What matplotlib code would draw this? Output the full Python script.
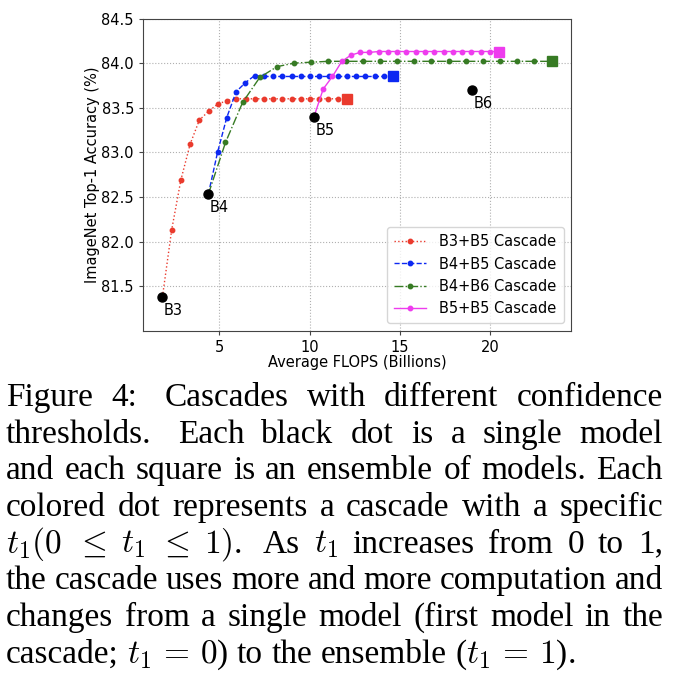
import matplotlib
matplotlib.use("Agg")
import matplotlib.pyplot as plt

# ---------------- data ----------------
b3b5_x = [1.85, 2.36, 2.87, 3.38, 3.89, 4.40, 4.91, 5.43, 5.94, 6.45, 6.96,
          7.47, 7.98, 8.49, 9.00, 9.51, 10.02, 10.53, 11.04, 11.55, 12.07]
b3b5_y = [81.38, 82.13, 82.69, 83.09, 83.36, 83.46, 83.54, 83.58, 83.60, 83.60, 83.60,
          83.60, 83.60, 83.60, 83.60, 83.60, 83.60, 83.60, 83.60, 83.60, 83.60]

b4b5_x = [4.39, 4.90, 5.41, 5.93, 6.44, 6.95, 7.46, 7.97, 8.49, 9.00, 9.51,
          10.02, 10.53, 11.05, 11.56, 12.07, 12.58, 13.09, 13.61, 14.12, 14.63]
b4b5_y = [82.53, 83.00, 83.39, 83.68, 83.78, 83.86, 83.85, 83.85, 83.85, 83.85, 83.85,
          83.85, 83.85, 83.85, 83.85, 83.85, 83.85, 83.85, 83.85, 83.85, 83.85]

b4b6_x = [4.39, 5.34, 6.29, 7.24, 8.19, 9.14, 10.09, 11.04, 11.99, 12.94, 13.89,
          14.84, 15.79, 16.74, 17.69, 18.64, 19.59, 20.54, 21.49, 22.44, 23.39]
b4b6_y = [82.53, 83.11, 83.56, 83.84, 83.96, 84.00, 84.01, 84.02, 84.02, 84.02, 84.02,
          84.02, 84.02, 84.02, 84.02, 84.02, 84.02, 84.02, 84.02, 84.02, 84.02]

b5b5_x = [10.24, 10.75, 11.26, 11.78, 12.29, 12.80, 13.31, 13.82, 14.34, 14.85, 15.36,
          15.87, 16.38, 16.90, 17.41, 17.92, 18.43, 18.94, 19.46, 19.97, 20.48]
b5b5_y = [83.40, 83.71, 83.85, 84.02, 84.09, 84.12, 84.12, 84.13, 84.13, 84.13, 84.13,
          84.13, 84.13, 84.13, 84.13, 84.13, 84.13, 84.13, 84.13, 84.13, 84.13]

single_names = ["B3", "B4", "B5", "B6"]
single_x = [1.85, 4.39, 10.24, 19.00]
single_y = [81.38, 82.53, 83.40, 83.70]

series_labels = ["B3+B5 Cascade", "B4+B5 Cascade", "B4+B6 Cascade", "B5+B5 Cascade"]
series_x = [b3b5_x, b4b5_x, b4b6_x, b5b5_x]
series_y = [b3b5_y, b4b5_y, b4b6_y, b5b5_y]

xticks = [5, 10, 15, 20]
yticks = [81.5, 82.0, 82.5, 83.0, 83.5, 84.0, 84.5]

caption_lines = [
    ["Figure", "4:", "Cascades", "with", "different", "confidence"],
    ["thresholds.", "Each", "black", "dot", "is", "a", "single", "model"],
    ["and", "each", "square", "is", "an", "ensemble", "of", "models.", "Each"],
    ["colored", "dot", "represents", "a", "cascade", "with", "a", "specific"],
    [r"$t_1(0$", r"$\leq$", r"$t_1$", r"$\leq$", r"$1)$.", "As", r"$t_1$",
     "increases", "from", "0", "to", "1,"],
    ["the", "cascade", "uses", "more", "and", "more", "computation", "and"],
    ["changes", "from", "a", "single", "model", "(first", "model", "in", "the"],
    ["cascade;", r"$t_1\,=\,0$)", "to", "the", "ensemble", r"($t_1\,=\,1$)."],
]

# ---------------- style ----------------
colors = ["#ea3a2d", "#0c28f2", "#377b24", "#ee3cee"]
styles = [":", "--", "-.", "-"]
lws = [1.0, 1.0, 1.0, 1.0]

plt.rcParams["font.family"] = ["DejaVu Sans"]
plt.rcParams["mathtext.fontset"] = "cm"
W, H = 678, 680
fig = plt.figure(figsize=(W / 100, H / 100), dpi=100)
ax = fig.add_axes([143 / W, 1 - 330.7 / H, (571 - 143) / W, (330.7 - 18.5) / H])

for xs, ys, c, ls, lw, lab in zip(series_x, series_y, colors, styles, lws, series_labels):
    ax.plot(xs, ys, linestyle=ls, color=c, lw=lw, marker="o", markersize=3.2,
            label=lab, zorder=3)
    ax.plot(xs[-1:], ys[-1:], linestyle="none", marker="s", markersize=7,
            color=c, zorder=4)

ax.plot(single_x, single_y, linestyle="none", marker="o", markersize=6.5,
        color="black", zorder=5)
for n, x, y in zip(single_names, single_x, single_y):
    ax.annotate(n, (x, y), xytext=(1, -4.5), textcoords="offset points",
                ha="left", va="top", fontsize=10.5, color="black")

ax.set_ylim(81.0, 84.5)
ax.set_xticks(xticks)
ax.set_yticks(yticks)
ax.tick_params(labelsize=10.5, length=3, color="#444444")
ax.grid(True, linestyle=":", color="#b0b0b0", lw=0.8)
for s in ax.spines.values():
    s.set_color("#444444")
ax.set_xlabel("Average FLOPS (Billions)", fontsize=10.5, labelpad=0.5)
ax.set_ylabel("ImageNet Top-1 Accuracy (%)", fontsize=10.5, labelpad=1)
ax.legend(loc="lower right", fontsize=10.5, handlelength=2.2, borderpad=0.5,
          labelspacing=0.5, handletextpad=0.9)

# ---------------- caption (justified) ----------------
renderer = fig.canvas.get_renderer()
fs = 24
left_px, right_px = 6.0, 663.0
baselines = [406, 442.7, 479.3, 516, 552.7, 589.3, 626, 662.7]
space_px = 0.25 * fs * 100 / 72

for li, (tokens, base) in enumerate(zip(caption_lines, baselines)):
    texts = []
    widths = []
    for tok in tokens:
        t = fig.text(0, 0, tok, fontsize=fs, family=["Liberation Serif"],
                     ha="left", va="baseline", color="black")
        texts.append(t)
        widths.append(t.get_window_extent(renderer).width)
    weights = []
    for tok in tokens[:-1]:
        weights.append(1.5 if (tok.endswith(":") or tok.endswith(".")) and tok != "models." else 1.0)
    last = li == len(caption_lines) - 1
    if last:
        gap_unit = space_px
    else:
        gap_unit = (right_px - left_px - sum(widths)) / sum(weights)
    x = left_px
    for i, t in enumerate(texts):
        t.set_position((x / W, 1 - base / H))
        x += widths[i]
        if i < len(weights):
            x += gap_unit * weights[i]

fig.savefig("out.png", dpi=100)
